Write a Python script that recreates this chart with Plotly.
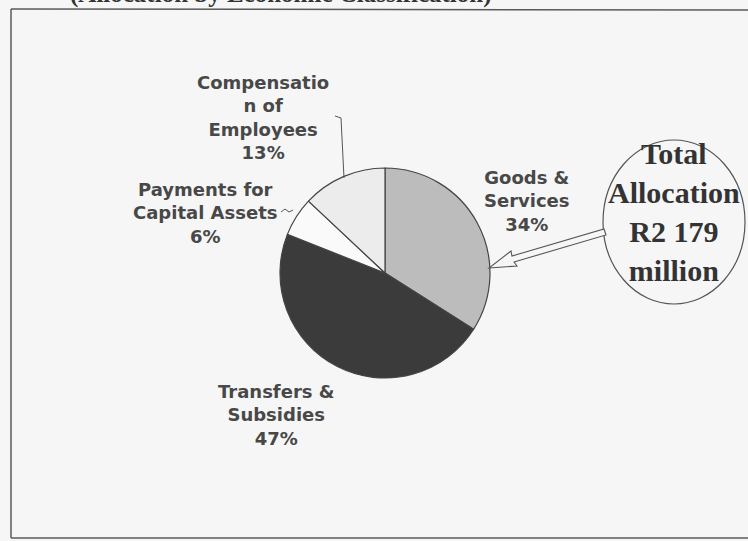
import plotly.graph_objects as go

# ---- data ----
categories = ["Goods &<br>Services", "Transfers &<br>Subsidies",
              "Payments for<br>Capital Assets", "Compensatio<br>n of<br>Employees"]
values = [34, 47, 6, 13]
slice_colors = ["#bcbcbc", "#3b3b3b", "#fafafa", "#ececec"]
total_text = ["Total", "Allocation", "R2 179", "million"]
title_text = "(Allocation by Economic Classification)"

W, H = 748, 541
BG = "#f6f6f6"

def px(x):
    return x / W

def py(y):
    return 1 - y / H

cx, cy, r = 385, 273, 105

fig = go.Figure(go.Pie(
    labels=[c.replace("<br>", " ") for c in categories],
    values=values,
    sort=False,
    direction="clockwise",
    rotation=0,
    textinfo="none",
    hoverinfo="label+percent",
    marker=dict(colors=slice_colors, line=dict(color="#444444", width=1.2)),
    domain=dict(x=[px(cx - r), px(cx + r)], y=[py(cy + r), py(cy - r)]),
    showlegend=False,
))

# label positions (layout only)
label_pos = [(527, 201), (276, 415), (205, 213), (263, 118)]
annotations = []
for cat, val, (lx, ly) in zip(categories, values, label_pos):
    annotations.append(dict(
        x=px(lx), y=py(ly), xref="paper", yref="paper",
        text=f"{cat}<br>{val}%", showarrow=False,
        xanchor="center", yanchor="middle", align="center",
        font=dict(family="DejaVu Sans", size=18, color="#484848", weight="bold"),
    ))

# ellipse text
annotations.append(dict(
    x=px(674), y=py(212), xref="paper", yref="paper",
    text="<br>".join(total_text), showarrow=False,
    xanchor="center", yanchor="middle", align="center",
    font=dict(family="Liberation Serif", size=30, color="#333333", weight="bold"),
))

# cut-off title at the top (only the bottom of the glyphs shows, as in the scan)
annotations.append(dict(
    x=px(281), y=py(7), xref="paper", yref="paper",
    text=title_text, showarrow=False,
    xanchor="center", yanchor="bottom", yshift=-3,
    font=dict(family="Liberation Serif", size=25, color="#333333", weight="bold"),
))

def path(points, close=False):
    s = "M " + " L ".join(f"{px(x)},{py(y)}" for x, y in points)
    return s + (" Z" if close else "")

shapes = [
    # frame
    dict(type="line", xref="paper", yref="paper", x0=px(11), y0=py(9), x1=px(11), y1=py(538),
         line=dict(color="#5a5a5a", width=1.5)),
    dict(type="line", xref="paper", yref="paper", x0=px(11), y0=py(9), x1=px(760), y1=py(10),
         line=dict(color="#5a5a5a", width=1.5)),
    dict(type="line", xref="paper", yref="paper", x0=px(11), y0=py(538), x1=px(760), y1=py(538),
         line=dict(color="#5a5a5a", width=1.5)),
    # leader lines
    dict(type="path", xref="paper", yref="paper",
         path=path([(335, 116), (341, 118), (344, 178)]),
         line=dict(color="#555555", width=1)),
    dict(type="path", xref="paper", yref="paper",
         path=path([(281, 212), (285, 209), (289, 212), (293, 210)]),
         line=dict(color="#555555", width=1)),
    # ellipse
    dict(type="circle", xref="paper", yref="paper",
         x0=px(603), x1=px(745), y0=py(304), y1=py(140),
         line=dict(color="#555555", width=1.2)),
    # hollow arrow
    dict(type="path", xref="paper", yref="paper",
         path=path([(489, 268), (517, 266), (514, 262), (606, 235),
                    (604, 229), (512, 256), (511, 251)], close=True),
         fillcolor=BG, line=dict(color="#555555", width=1.1)),
]

fig.update_layout(
    width=W, height=H,
    margin=dict(l=0, r=0, t=0, b=0),
    paper_bgcolor=BG, plot_bgcolor=BG,
    annotations=annotations,
    shapes=shapes,
)

fig.write_html("out.html")
